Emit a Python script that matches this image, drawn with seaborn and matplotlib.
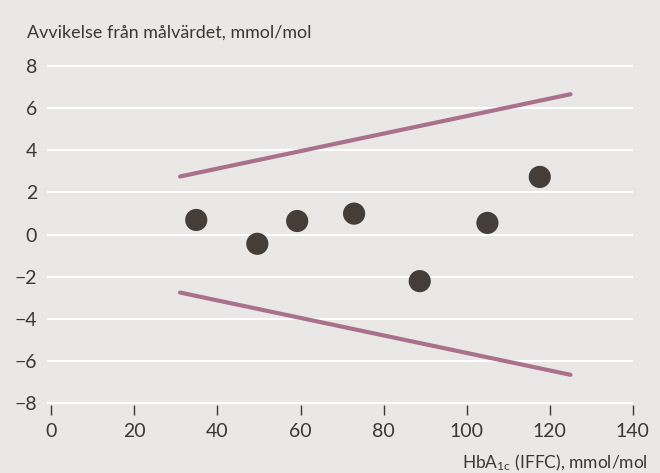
import matplotlib
matplotlib.use("Agg")
import matplotlib.pyplot as plt
import seaborn as sns
import pandas as pd

# mätpunkter (HbA1c, avvikelse)
hba1c = [34.9, 49.6, 59.2, 72.9, 88.7, 105.0, 117.6]
avvikelse = [0.69, -0.44, 0.64, 0.99, -2.21, 0.55, 2.73]

# gränslinjer
grans_x = [31.0, 125.0]
grans_ovre = [2.75, 6.65]
grans_nedre = [-2.75, -6.65]

x_ticks = [0, 20, 40, 60, 80, 100, 120, 140]
y_ticks = [-8, -6, -4, -2, 0, 2, 4, 6, 8]

BG = "#E9E8E6"
TEXT = "#3B3733"
PUNKT = "#453E38"
LINJE = "#A9718B"

sns.set_style("white")
plt.rcParams['font.family'] = ['Lato', 'DejaVu Sans']
plt.rcParams['mathtext.default'] = 'regular'

fig = plt.figure(figsize=(6.6, 4.73), dpi=100, facecolor=BG)
ax = fig.add_axes([0.0708, 0.1429, 0.888, 0.7226])
ax.set_facecolor(BG)

punkter = pd.DataFrame({'x': hba1c, 'y': avvikelse})
linjer = pd.DataFrame({
    'x': grans_x + grans_x,
    'y': grans_ovre + grans_nedre,
    'grans': ['övre'] * 2 + ['nedre'] * 2,
})

sns.lineplot(data=linjer, x='x', y='y', units='grans', estimator=None,
             color=LINJE, linewidth=3.0, ax=ax, legend=False)
sns.scatterplot(data=punkter, x='x', y='y', color=PUNKT, s=255,
                edgecolor='none', ax=ax, zorder=3, legend=False)

ax.set_xlim(-1.1, 140)
ax.set_ylim(-8.1, 8.1)
ax.set_xticks(x_ticks)
ax.set_yticks(y_ticks)
ax.set_yticklabels([str(v).replace('-', '\u2212') for v in y_ticks])
ax.yaxis.grid(True, color='white', linewidth=1.5)
ax.set_axisbelow(True)
for s in ax.spines.values():
    s.set_visible(False)

ax.tick_params(axis='x', bottom=True, length=7, width=1, color=TEXT,
               direction='out', pad=6, labelsize=14, labelcolor=TEXT)
ax.tick_params(axis='y', left=False, length=0, pad=7, labelsize=14,
               labelcolor=TEXT)
ax.set_xlabel('')
ax.set_ylabel('')

fig.text(27 / 660, 1 - 38 / 473, 'Avvikelse från målvärdet, mmol/mol',
         ha='left', va='baseline', fontsize=12.9, color=TEXT)
fig.text(648 / 660, 1 - 468 / 473, r'HbA$_{1c}$ (IFFC), mmol/mol',
         ha='right', va='baseline', fontsize=12.5, color=TEXT)

fig.savefig('out.png', dpi=100, facecolor=BG)
